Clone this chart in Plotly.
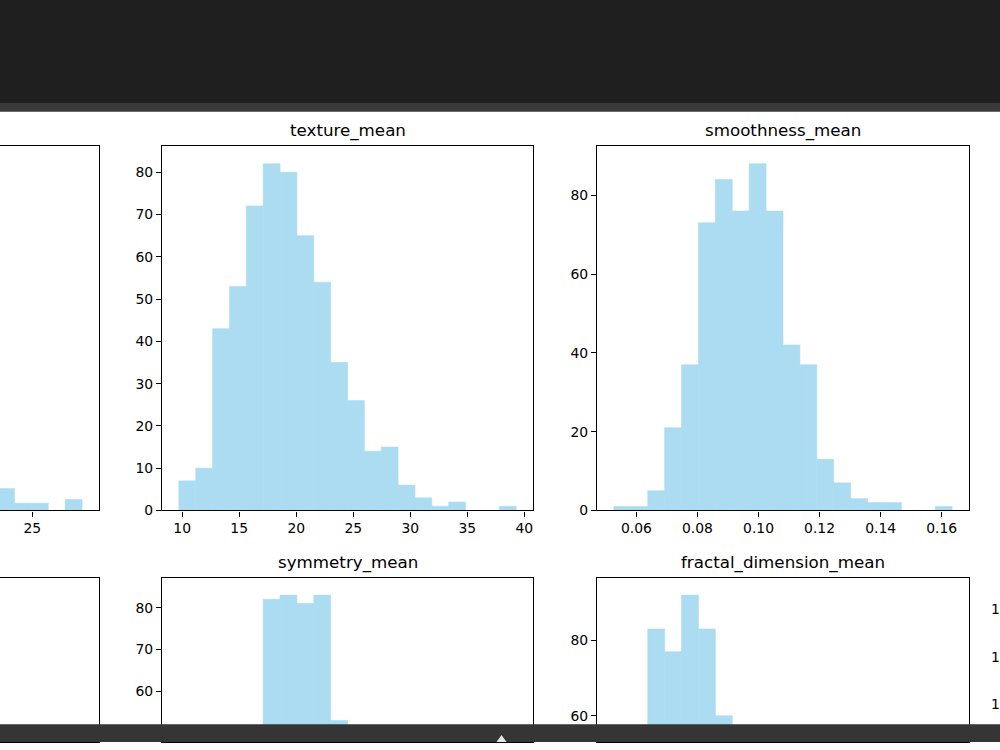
import plotly.graph_objects as go

W, H = 1000, 750
NBINS = 20

# ---------------- data ----------------
radius_min, radius_max = 6.981, 28.11
radius_first_visible_bin = 15
radius_counts_visible = [6, 2, 2, 0, 3]
radius_peak_count = 95          # tallest bar is off-screen (estimated from scale)

texture_min, texture_max = 9.71, 39.28
texture_counts = [7, 10, 43, 53, 72, 82, 80, 65, 54, 35, 26, 14, 15, 6, 3, 1, 2, 0, 0, 1]

smooth_min, smooth_max = 0.05263, 0.1634
smooth_counts = [1, 1, 5, 21, 37, 73, 84, 76, 88, 76, 42, 37, 13, 7, 3, 2, 2, 0, 0, 1]

sym_min, sym_max = 0.106, 0.304
sym_first_visible_bin = 5
sym_counts_visible = [82, 83, 81, 83, 53]

frac_min, frac_max = 0.04996, 0.09744
frac_first_visible_bin = 2
frac_counts_visible = [83, 77, 92, 83, 60]

# off-screen fourth panel of the bottom row: only the first digit of its
# y tick labels peeks in at the right edge of the window
col4_peak_count = 146
col4_tick_values = [100, 120, 140]
col4_tick_labels = ["1", "1", "1"]

titles = ["texture_mean", "smoothness_mean", "symmetry_mean", "fractal_dimension_mean"]

# ---------------- layout geometry (pixels of the full matplotlib figure) ----------------
COLS = [(-273, 99), (162, 533), (597, 969)]
ROWS = [(148, 516), (584, 952)]

BAR = "#abdcf1"   # skyblue at alpha 0.7 over white
TICKFONT = dict(family="DejaVu Sans", size=13.9, color="black")
TITLEFONT = dict(family="DejaVu Sans", size=16.7, color="black")


def mpl_lim(lo, hi):
    m = 0.05 * (hi - lo)
    return lo - m, hi + m


def visible_x(px_lo, px_hi, v_lo, v_hi):
    a, b = max(px_lo, 0), min(px_hi, W)
    f = lambda p: v_lo + (p - px_lo) / (px_hi - px_lo) * (v_hi - v_lo)
    return [a / W, b / W], [f(a), f(b)]


def visible_y(px_top, px_bot, v_lo, v_hi):
    a, b = max(px_top, 0), min(px_bot, H)
    f = lambda p: v_lo + (px_bot - p) / (px_bot - px_top) * (v_hi - v_lo)
    return [1 - b / H, 1 - a / H], [f(b), f(a)]


def bins(lo, hi, first, counts):
    bw = (hi - lo) / NBINS
    return [lo + (first + i) * bw for i in range(len(counts))], bw


fig = go.Figure()
layout = {}

panels = [
    dict(i=1, col=0, row=0, lim=(radius_min, radius_max), first=radius_first_visible_bin,
         counts=radius_counts_visible, ymax=1.05 * radius_peak_count, xd=5, xf="", yd=10),
    dict(i=2, col=1, row=0, lim=(texture_min, texture_max), first=0,
         counts=texture_counts, ymax=1.05 * max(texture_counts), xd=5, xf="", yd=10),
    dict(i=3, col=2, row=0, lim=(smooth_min, smooth_max), first=0,
         counts=smooth_counts, ymax=1.05 * max(smooth_counts), xd=0.02, xf=".2f", yd=20),
    dict(i=4, col=0, row=1, lim=(0.0, 1.0), first=0, counts=[], ymax=1.0, xd=0.2, xf="", yd=0.2),
    dict(i=5, col=1, row=1, lim=(sym_min, sym_max), first=sym_first_visible_bin,
         counts=sym_counts_visible, ymax=1.05 * max(sym_counts_visible), xd=0.05, xf="", yd=10),
    dict(i=6, col=2, row=1, lim=(frac_min, frac_max), first=frac_first_visible_bin,
         counts=frac_counts_visible, ymax=1.05 * max(frac_counts_visible), xd=0.01, xf="", yd=20),
]

for p in panels:
    i = p["i"]
    xs = "" if i == 1 else str(i)
    cl, cr = COLS[p["col"]]
    rt, rb = ROWS[p["row"]]
    xl, xh = mpl_lim(*p["lim"])
    xdom, xrng = visible_x(cl, cr, xl, xh)
    ydom, yrng = visible_y(rt, rb, 0, p["ymax"])

    if p["counts"]:
        lefts, bw = bins(p["lim"][0], p["lim"][1], p["first"], p["counts"])
        fig.add_trace(go.Bar(x=lefts, y=p["counts"], width=[bw] * len(lefts), offset=0,
                             marker=dict(color=BAR, line=dict(width=0.6, color=BAR)),
                             xaxis="x" + xs, yaxis="y" + xs, hoverinfo="skip", showlegend=False))
    else:
        fig.add_trace(go.Scatter(x=[], y=[], xaxis="x" + xs, yaxis="y" + xs, showlegend=False))

    bottom_row = p["row"] == 1
    left_col = p["col"] == 0
    layout["xaxis" + xs] = dict(
        domain=xdom, range=xrng, anchor="y" + xs, showgrid=False, zeroline=False,
        showline=True, mirror=True, linecolor="black", linewidth=1.1,
        ticks="" if bottom_row else "outside", ticklen=5, tickwidth=1.1, tickcolor="black",
        showticklabels=not bottom_row, dtick=p["xd"], tick0=0, tickformat=p["xf"],
        tickfont=TICKFONT, fixedrange=True)
    layout["yaxis" + xs] = dict(
        domain=ydom, range=yrng, anchor="x" + xs, showgrid=False, zeroline=False,
        showline=True, mirror=not left_col, side="right" if left_col else "left",
        linecolor="black", linewidth=1.1,
        ticks="" if left_col else "outside", ticklen=5, tickwidth=1.1, tickcolor="black",
        showticklabels=not left_col, dtick=p["yd"], tick0=0,
        tickfont=TICKFONT, fixedrange=True)

# fourth column (bottom row) lies off-screen
y7dom, y7rng = visible_y(ROWS[1][0], ROWS[1][1], 0, 1.05 * col4_peak_count)
fig.add_trace(go.Scatter(x=[], y=[], xaxis="x6", yaxis="y7", showlegend=False))
layout["yaxis7"] = dict(overlaying="y6", anchor="free", position=1.0, side="right",
                        range=y7rng, showgrid=False, zeroline=False, showline=False,
                        ticks="", tickvals=col4_tick_values, ticktext=col4_tick_labels,
                        ticklabelstandoff=-10, tickfont=TICKFONT, fixedrange=True)

# titles
annotations = []
title_panels = [(1, 0), (2, 0), (1, 1), (2, 1)]
for t, (c, r) in zip(titles, title_panels):
    cl, cr = COLS[c]
    rt, _ = ROWS[r]
    annotations.append(dict(text=t, xref="paper", yref="paper", x=(cl + cr) / 2 / W,
                            y=1 - rt / H, xanchor="center", yanchor="bottom", yshift=3,
                            showarrow=False, font=TITLEFONT))

# surrounding dark UI bands
shapes = [
    dict(type="rect", xref="paper", yref="paper", x0=0, x1=1, y0=1 - 104 / H, y1=1,
         fillcolor="#1f1f1f", line=dict(width=0), layer="above"),
    dict(type="rect", xref="paper", yref="paper", x0=0, x1=1, y0=1 - 113 / H, y1=1 - 104 / H,
         fillcolor="#3a3a3a", line=dict(width=0), layer="above"),
    dict(type="rect", xref="paper", yref="paper", x0=0, x1=1, y0=0, y1=1 - 732 / H,
         fillcolor="#353535", line=dict(width=0), layer="above"),
    dict(type="path", xref="paper", yref="paper",
         path="M 0.4965 0 L 0.5015 %f L 0.5065 0 Z" % (1 - 743 / H),
         fillcolor="#e6e6e6", line=dict(width=0), layer="above"),
]

fig.update_layout(
    width=W, height=H, margin=dict(l=0, r=0, t=0, b=0, pad=0),
    paper_bgcolor="white", plot_bgcolor="white", showlegend=False,
    annotations=annotations, shapes=shapes, hovermode=False, **layout)

fig.write_html("out.html", config={"displayModeBar": False})
